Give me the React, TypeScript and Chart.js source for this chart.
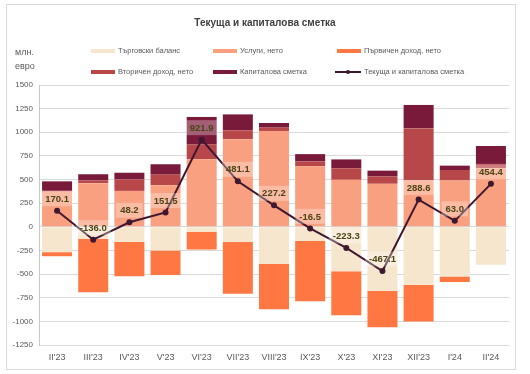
import React, { useEffect, useRef } from 'react';
import { Chart, registerables } from 'chart.js';

Chart.register(...registerables);

const categories = ["II'23", "III'23", "IV'23", "V'23", "VI'23", "VII'23", "VIII'23", "IX'23", "X'23", "XI'23", "XII'23", "I'24", "II'24"];
const tradeBalance = [-268, -125, -160, -250, -55, -161, -393, -150, -471, -679, -614, -525, -400];
const services = [373, 462, 380, 440, 715, 927, 1014, 640, 497, 455, 490, 490, 620];
const primaryIncome = [-43, -567, -364, -260, -185, -546, -480, -636, -465, -382, -387, -59, 0];
const secondaryIncome = [8, 28, 122, 112, 155, 94, 35, 52, 122, 77, 551, 111, 45];
const capitalAccount = [100, 66, 70, 110, 292, 168, 49, 77, 94, 62, 248, 46, 190];
const currentAndCapital = [170.1, -136.0, 48.2, 151.5, 921.9, 481.1, 227.2, -16.5, -223.3, -467.1, 288.6, 63.0, 454.4];
const yTicks = [1500, 1250, 1000, 750, 500, 250, 0, -250, -500, -750, -1000, -1250];

const C_TRADE = '#F6E6CE';
const C_SERV = '#F8A07F';
const C_PRIM = '#FF7843';
const C_SEC = '#B8474A';
const C_CAP = '#7A1A3A';
const C_LINE = '#3E1830';

const FONT = '"Liberation Sans", Arial, sans-serif';

const legendItems = [
  { label: 'Търговски баланс', color: C_TRADE, type: 'box' },
  { label: 'Услуги, нето', color: C_SERV, type: 'box' },
  { label: 'Първичен доход, нето', color: C_PRIM, type: 'box' },
  { label: 'Вторичен доход, нето', color: C_SEC, type: 'box' },
  { label: 'Капиталова сметка', color: C_CAP, type: 'box' },
  { label: 'Текуща и капиталова сметка', color: C_LINE, type: 'line' },
];

const decorPlugin = {
  id: 'decor',
  beforeDraw(chart: any) {
    const ctx = chart.ctx;
    ctx.save();
    ctx.fillStyle = '#ffffff';
    ctx.fillRect(0, 0, chart.width, chart.height);
    ctx.strokeStyle = '#d9d9d9';
    ctx.lineWidth = 1;
    ctx.strokeRect(6.5, 4.5, 509, 365);
    ctx.restore();
  },
  afterDraw(chart: any) {
    const ctx = chart.ctx;
    ctx.save();
    // title
    ctx.fillStyle = '#404040';
    ctx.font = `bold 10px ${FONT}`;
    ctx.textAlign = 'center';
    ctx.textBaseline = 'middle';
    ctx.fillText('Текуща и капиталова сметка', 265, 23);
    // unit
    ctx.fillStyle = '#595959';
    ctx.font = `9px ${FONT}`;
    ctx.textAlign = 'left';
    ctx.fillText('млн.', 15, 53);
    ctx.fillText('евро', 15, 67);
    // legend
    const colX = [91, 213, 337];
    const rowY = [51, 72];
    ctx.font = `7.5px ${FONT}`;
    legendItems.forEach((it, i) => {
      const x = colX[i % 3];
      const y = rowY[Math.floor(i / 3)];
      if (it.type === 'box') {
        ctx.fillStyle = it.color;
        ctx.fillRect(x, y - 2, 24, 4);
      } else {
        ctx.strokeStyle = it.color;
        ctx.lineWidth = 2;
        ctx.beginPath();
        ctx.moveTo(x - 2, y);
        ctx.lineTo(x + 24, y);
        ctx.stroke();
        ctx.fillStyle = it.color;
        ctx.beginPath();
        ctx.arc(x + 11, y, 2, 0, Math.PI * 2);
        ctx.fill();
      }
      ctx.fillStyle = '#595959';
      ctx.textAlign = 'left';
      ctx.textBaseline = 'middle';
      ctx.fillText(it.label, x + 27, y);
    });
    ctx.restore();
  },
  afterDatasetsDraw(chart: any) {
    const ctx = chart.ctx;
    const meta = chart.getDatasetMeta(5);
    ctx.save();
    ctx.font = `bold 9.5px ${FONT}`;
    ctx.textAlign = 'center';
    ctx.textBaseline = 'middle';
    meta.data.forEach((pt: any, i: number) => {
      const txt = currentAndCapital[i].toFixed(1);
      const w = ctx.measureText(txt).width + 8;
      const h = 15;
      const cx = pt.x;
      const cy = pt.y - 12;
      ctx.fillStyle = 'rgba(255,255,255,0.3)';
      ctx.fillRect(cx - w / 2, cy - h / 2, w, h);
      ctx.fillStyle = '#4a4416';
      ctx.fillText(txt, cx, cy + 0.5);
    });
    ctx.restore();
  },
};

export default function App() {
  const ref = useRef<HTMLCanvasElement | null>(null);
  useEffect(() => {
    if (!ref.current) return;
    const barCommon = {
      type: 'bar' as const,
      order: 1,
      barPercentage: 0.83,
      categoryPercentage: 1,
      borderWidth: 0,
    };
    const chart = new Chart(ref.current, {
      type: 'bar',
      data: {
        labels: categories,
        datasets: [
          { ...barCommon, label: 'Търговски баланс', data: tradeBalance, backgroundColor: C_TRADE },
          { ...barCommon, label: 'Услуги, нето', data: services, backgroundColor: C_SERV },
          { ...barCommon, label: 'Първичен доход, нето', data: primaryIncome, backgroundColor: C_PRIM },
          { ...barCommon, label: 'Вторичен доход, нето', data: secondaryIncome, backgroundColor: C_SEC },
          { ...barCommon, label: 'Капиталова сметка', data: capitalAccount, backgroundColor: C_CAP },
          {
            type: 'line' as const,
            order: 0,
            label: 'Текуща и капиталова сметка',
            data: currentAndCapital,
            borderColor: C_LINE,
            backgroundColor: C_LINE,
            borderWidth: 2,
            pointRadius: 3,
            pointBackgroundColor: C_LINE,
            pointBorderWidth: 0,
            tension: 0,
            stack: 'line',
          } as any,
        ],
      },
      options: {
        animation: false,
        responsive: false,
        maintainAspectRatio: false,
        layout: { padding: { left: 0, right: 21, top: 85, bottom: 0 } },
        plugins: {
          legend: { display: false },
          title: { display: false },
          tooltip: { enabled: false },
        },
        scales: {
          x: {
            stacked: true,
            grid: { display: false, drawTicks: false },
            border: { display: false },
            ticks: { color: '#595959', font: { family: FONT, size: 9 }, padding: 7, maxRotation: 0, autoSkip: false },
            afterFit: (s: any) => { s.height = 29; },
          },
          y: {
            stacked: true,
            min: -1250,
            max: 1500,
            afterBuildTicks: (s: any) => { s.ticks = yTicks.map((v) => ({ value: v })); },
            grid: { color: '#d9d9d9', lineWidth: 1, drawTicks: false },
            border: { display: true, color: '#c8c8c8' },
            ticks: {
              color: '#595959',
              font: { family: FONT, size: 8 },
              padding: 6,
              callback: (v: any) => String(v),
            },
            afterFit: (s: any) => { s.width = 39; },
          },
        },
      },
      plugins: [decorPlugin],
    });
    return () => chart.destroy();
  }, []);
  return (
    <div style={{ position: 'fixed', left: 0, top: 0, width: 530, height: 374 }}>
      <canvas ref={ref} width={530} height={374} style={{ width: 530, height: 374, display: 'block' }} />
    </div>
  );
}
